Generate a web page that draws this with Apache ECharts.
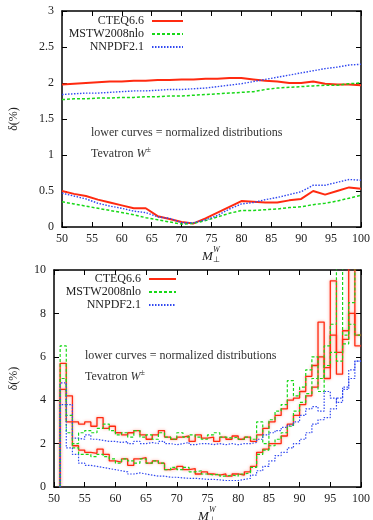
<!DOCTYPE html>
<html>
<head>
<meta charset="utf-8">
<script src="https://cdn.jsdelivr.net/npm/echarts@6/dist/echarts.min.js"></script>
<style>
  html, body { margin: 0; padding: 0; background: #fff; }
  #chart { width: 373px; height: 520px; }
</style>
</head>
<body>
<div id="chart"></div>
<script>
// top panel: absolute uncertainties (upper) and normalized ones (lower), every 2 GeV
const topX = [50, 52, 54, 56, 58, 60, 62, 64, 66, 68, 70, 72, 74, 76, 78, 80, 82, 84, 86, 88, 90, 92, 94, 96, 98, 100];
const topCteqUp = [1.98, 1.99, 2.0, 2.01, 2.02, 2.02, 2.03, 2.03, 2.04, 2.04, 2.05, 2.05, 2.06, 2.06, 2.07, 2.07, 2.05, 2.03, 2.02, 2.0, 2.0, 2.02, 1.99, 1.98, 1.98, 1.97];
const topMstwUp = [1.77, 1.78, 1.78, 1.79, 1.79, 1.80, 1.80, 1.81, 1.81, 1.82, 1.82, 1.83, 1.84, 1.85, 1.86, 1.87, 1.88, 1.91, 1.93, 1.94, 1.95, 1.96, 1.97, 1.97, 1.99, 2.0];
const topNnpdfUp = [1.84, 1.85, 1.86, 1.86, 1.87, 1.88, 1.89, 1.89, 1.90, 1.91, 1.91, 1.92, 1.93, 1.95, 1.97, 1.99, 2.02, 2.05, 2.08, 2.11, 2.14, 2.17, 2.20, 2.22, 2.25, 2.26];
const topCteqLo = [0.50, 0.46, 0.43, 0.38, 0.34, 0.30, 0.26, 0.26, 0.15, 0.11, 0.07, 0.05, 0.12, 0.20, 0.28, 0.36, 0.35, 0.34, 0.34, 0.37, 0.39, 0.50, 0.45, 0.50, 0.55, 0.53];
const topMstwLo = [0.35, 0.32, 0.29, 0.26, 0.23, 0.20, 0.17, 0.13, 0.10, 0.07, 0.04, 0.05, 0.09, 0.14, 0.19, 0.23, 0.23, 0.24, 0.25, 0.27, 0.28, 0.31, 0.33, 0.36, 0.40, 0.44];
const topNnpdfLo = [0.47, 0.43, 0.39, 0.33, 0.29, 0.26, 0.22, 0.20, 0.14, 0.12, 0.06, 0.06, 0.10, 0.16, 0.25, 0.32, 0.34, 0.38, 0.41, 0.45, 0.49, 0.58, 0.58, 0.62, 0.66, 0.65];

// bottom panel: histograms, bin edges 51..100 (1 GeV bins)
const botEdges = [51, 52, 53, 54, 55, 56, 57, 58, 59, 60, 61, 62, 63, 64, 65, 66, 67, 68, 69, 70, 71, 72, 73, 74, 75, 76, 77, 78, 79, 80, 81, 82, 83, 84, 85, 86, 87, 88, 89, 90, 91, 92, 93, 94, 95, 96, 97, 98, 99, 100];
const botCteqUp = [5.7, 4.2, 3.0, 2.9, 3.0, 2.8, 3.2, 2.7, 2.8, 2.5, 2.4, 2.5, 2.6, 2.4, 2.2, 2.4, 2.6, 2.3, 2.2, 2.3, 2.35, 2.1, 2.4, 2.25, 2.3, 2.1, 2.3, 2.2, 2.35, 2.2, 2.3, 2.1, 2.4, 2.7, 3.0, 3.3, 3.6, 4.0, 4.1, 4.4, 5.1, 5.6, 7.6, 5.5, 9.5, 5.2, 7.2, 10.5, 7.0];
const botCteqLo = [4.5, 3.0, 1.9, 1.7, 1.6, 1.55, 1.75, 1.5, 1.2, 1.15, 1.3, 1.0, 1.3, 1.35, 1.1, 1.2, 1.1, 0.8, 0.85, 0.95, 0.8, 0.85, 0.6, 0.7, 0.6, 0.55, 0.6, 0.5, 0.6, 0.55, 0.7, 0.95, 1.6, 1.75, 2.0, 2.0, 2.35, 2.9, 3.3, 3.8, 4.2, 4.6, 6.0, 5.0, 7.0, 6.2, 6.8, 8.0, 6.5];
const botMstwUp = [6.5, 3.3, 2.0, 2.5, 2.6, 2.5, 2.7, 2.9, 2.6, 2.4, 2.5, 2.3, 2.6, 2.3, 2.4, 2.2, 2.5, 2.3, 2.2, 2.5, 2.3, 2.4, 2.3, 2.2, 2.4, 2.5, 2.3, 2.25, 2.3, 2.2, 2.3, 2.2, 3.0, 2.0, 3.1, 3.5, 3.8, 4.9, 4.2, 4.6, 5.4, 6.0, 5.0, 6.5, 7.5, 10.5, 7.0, 8.5, 10.5];
const botMstwLo = [5.0, 2.5, 1.8, 1.5, 1.5, 1.4, 1.5, 1.4, 1.3, 1.1, 1.3, 1.2, 1.1, 1.3, 1.1, 1.2, 1.1, 0.8, 0.9, 0.8, 0.9, 0.7, 0.75, 0.6, 0.55, 0.6, 0.5, 0.55, 0.5, 0.6, 0.65, 0.9, 1.5, 1.7, 1.9, 2.2, 2.5, 2.8, 3.5, 3.9, 4.3, 5.0, 4.4, 5.6, 6.2, 5.8, 6.6, 7.5, 7.0];
const botNnpdfUp = [4.8, 3.8, 2.25, 2.2, 2.4, 2.2, 2.15, 2.1, 2.1, 2.05, 2.1, 2.0, 2.1, 2.0, 2.05, 2.0, 2.1, 2.0, 1.95, 2.0, 2.05, 1.95, 2.0, 2.0, 1.95, 2.0, 1.95, 2.0, 1.95, 2.0, 2.0, 2.05, 2.2, 2.4, 2.5, 2.6, 2.75, 2.85, 3.0, 3.3, 3.6, 3.7, 3.5, 4.4, 4.1, 3.9, 4.6, 5.4, 5.8];
const botNnpdfLo = [3.8, 1.8, 1.5, 1.1, 1.0, 0.95, 0.9, 0.85, 0.8, 0.75, 0.7, 0.6, 0.65, 0.6, 0.55, 0.5, 0.5, 0.45, 0.45, 0.42, 0.4, 0.4, 0.38, 0.35, 0.35, 0.33, 0.3, 0.3, 0.3, 0.35, 0.4, 0.55, 0.75, 0.95, 1.2, 1.45, 1.6, 1.8, 2.0, 2.2, 2.5, 2.9, 3.1, 3.2, 3.6, 4.1, 4.5, 5.0, 5.8];

const FONT = 'Liberation Serif';
const RED = '#ff2a10';
const GREEN = '#18d818';
const BLUE = '#3048f0';

const styles = {
  'CTEQ6.6': { color: RED, type: 'solid' },
  'MSTW2008nlo': { color: GREEN, type: [3, 2] },
  'NNPDF2.1': { color: BLUE, type: [1.5, 1.5] },
};

function linePts(xs, ys) {
  return xs.map((x, i) => [x, ys[i]]);
}
function histPts(edges, vals) {
  const pts = [[edges[0], 0]];
  edges.forEach((e, i) => pts.push([e, vals[Math.min(i, vals.length - 1)]]));
  return pts;
}

function topSeries(name, vals, width) {
  return {
    name: name, type: 'line', xAxisIndex: 0, yAxisIndex: 0,
    data: linePts(topX, vals), showSymbol: false, symbol: 'none',
    lineStyle: { color: styles[name].color, type: styles[name].type, width: width },
    itemStyle: { color: styles[name].color },
    animation: false,
  };
}
function botSeries(name, vals, width) {
  const s = {
    name: name, type: 'line', xAxisIndex: 2, yAxisIndex: 2, step: 'end',
    data: histPts(botEdges, vals), showSymbol: false, symbol: 'none',
    lineStyle: { color: styles[name].color, type: styles[name].type, width: width },
    itemStyle: { color: styles[name].color },
    animation: false,
  };
  if (name === 'CTEQ6.6') {
    s.lineStyle.shadowColor = 'rgba(255,90,70,0.6)';
    s.lineStyle.shadowBlur = 3;
  }
  return s;
}

function xAxisDef(grid, pos, labels) {
  return {
    type: 'value', gridIndex: grid, position: pos, min: 50, max: 100, interval: 5,
    axisLine: { show: true, onZero: false, lineStyle: { color: '#000', width: 1.5 } },
    axisTick: { show: true, inside: true, length: 5, lineStyle: { color: '#000' } },
    axisLabel: { show: labels, margin: 6, fontFamily: FONT, fontSize: 12, color: '#222' },
    splitLine: { show: false },
  };
}
function yAxisDef(grid, pos, max, interval, labels, gap) {
  return {
    type: 'value', gridIndex: grid, position: pos, min: 0, max: max, interval: interval,
    name: labels ? 'δ(%)' : '', nameLocation: 'middle', nameGap: gap,
    nameTextStyle: { fontFamily: FONT, fontSize: 12, color: '#222' },
    axisLine: { show: true, onZero: false, lineStyle: { color: '#000', width: 1.5 } },
    axisTick: { show: true, inside: true, length: 5, lineStyle: { color: '#000' } },
    axisLabel: { show: labels, margin: 8, fontFamily: FONT, fontSize: 12, color: '#222' },
    splitLine: { show: false },
  };
}

function legendDef(top, right, w) {
  return {
    orient: 'vertical', align: 'right', top: top, right: right, padding: 0,
    itemWidth: w, itemHeight: 10, itemGap: 1, selectedMode: false,
    itemStyle: { opacity: 0 },
    data: ['CTEQ6.6', 'MSTW2008nlo', 'NNPDF2.1'],
    textStyle: { fontFamily: FONT, fontSize: 12, lineHeight: 11, color: '#222', padding: [0, 3, 0, 0] },
  };
}

function note(left, top, text) {
  return { type: 'text', left: left, top: top, style: { text: text, font: '12px ' + FONT, fill: '#333' } };
}
function tevatron(left, top) {
  return {
    type: 'text', left: left, top: top,
    style: {
      text: '{n|Tevatron }{w|W}{s|±}',
      fill: '#333',
      rich: {
        n: { fontFamily: FONT, fontSize: 12, lineHeight: 14, verticalAlign: 'bottom' },
        w: { fontFamily: FONT, fontSize: 12, fontStyle: 'italic', lineHeight: 14, verticalAlign: 'bottom' },
        s: { fontFamily: FONT, fontSize: 8, lineHeight: 14, verticalAlign: 'top' },
      },
    },
  };
}
function mLabel(left, top) {
  return {
    type: 'group', left: left, top: top,
    children: [
      { type: 'text', x: 0, y: 4, style: { text: 'M', font: 'italic 13px ' + FONT, fill: '#222' } },
      { type: 'text', x: 11, y: 0, style: { text: 'W', font: 'italic 8px ' + FONT, fill: '#222' } },
      { type: 'text', x: 11, y: 10, style: { text: '⊥', font: '8px ' + FONT, fill: '#222' } },
    ],
  };
}

const chart = echarts.init(document.getElementById('chart'));
chart.setOption({
  animation: false,
  backgroundColor: '#fff',
  grid: [
    { left: 61, top: 11, width: 302, height: 216 },
    { left: 54, top: 270, width: 309, height: 217 },
  ],
  xAxis: [
    xAxisDef(0, 'bottom', true),
    xAxisDef(0, 'top', false),
    xAxisDef(1, 'bottom', true),
    xAxisDef(1, 'top', false),
  ],
  yAxis: [
    yAxisDef(0, 'left', 3, 0.5, true, 42),
    yAxisDef(0, 'right', 3, 0.5, false, 0),
    yAxisDef(1, 'left', 10, 2, true, 34),
    yAxisDef(1, 'right', 10, 2, false, 0),
  ],
  legend: [legendDef(15, 189, 31), legendDef(273, 196, 27)],
  graphic: [
    note(91, 127, 'lower curves = normalized distributions'),
    tevatron(91, 146),
    note(85, 350, 'lower curves = normalized distributions'),
    tevatron(85, 369),
    mLabel(202, 246),
    mLabel(198, 506),
  ],
  series: [
    topSeries('CTEQ6.6', topCteqUp, 2),
    topSeries('CTEQ6.6', topCteqLo, 2),
    topSeries('MSTW2008nlo', topMstwUp, 1.5),
    topSeries('MSTW2008nlo', topMstwLo, 1.5),
    topSeries('NNPDF2.1', topNnpdfUp, 1.4),
    topSeries('NNPDF2.1', topNnpdfLo, 1.4),
    botSeries('CTEQ6.6', botCteqUp, 1.3),
    botSeries('CTEQ6.6', botCteqLo, 1.3),
    botSeries('MSTW2008nlo', botMstwUp, 1.2),
    botSeries('MSTW2008nlo', botMstwLo, 1.2),
    botSeries('NNPDF2.1', botNnpdfUp, 1.2),
    botSeries('NNPDF2.1', botNnpdfLo, 1.2),
  ],
});
</script>
</body>
</html>
